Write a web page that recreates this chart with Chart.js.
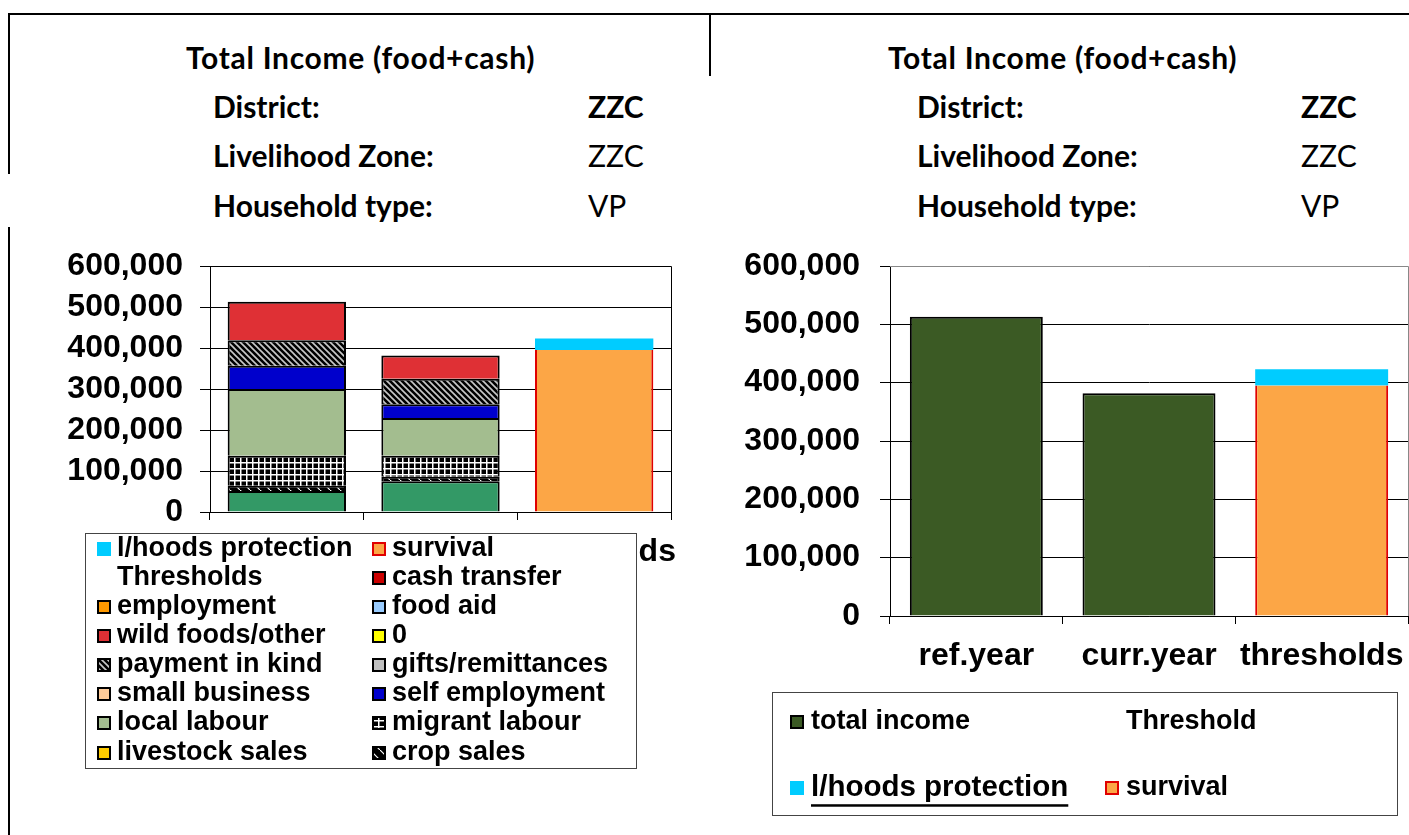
<!DOCTYPE html>
<html>
<head>
<meta charset="utf-8">
<script src="https://cdn.jsdelivr.net/npm/chart.js@4.4.0/dist/chart.umd.min.js"></script>
<style>
  body { margin: 0; width: 1409px; height: 835px; background: #fff; position: relative; overflow: hidden; }
  .rule { position: absolute; background: #000; }
  .hd { position: absolute; font-family: Lato, 'Open Sans', sans-serif; font-size: 30px; font-weight: 700;
        line-height: 36px; white-space: nowrap; color: #000; }
  .title { letter-spacing: 0.7px; }
  .reg { font-weight: 400; }
  canvas { position: absolute; }
</style>
</head>
<body>
<div class="rule" style="left:8px;top:13px;width:1401px;height:2px"></div>
<div class="rule" style="left:709px;top:13px;width:2px;height:63px"></div>
<div class="rule" style="left:8px;top:13px;width:2px;height:161px"></div>
<div class="rule" style="left:8px;top:227px;width:2px;height:608px"></div>

<div class="hd title" style="left:186px;top:39px">Total Income (food+cash)</div>
<div class="hd" style="left:213px;top:88px">District:</div>
<div class="hd" style="left:588px;top:88px">ZZC</div>
<div class="hd" style="left:213px;top:137px">Livelihood Zone:</div>
<div class="hd reg" style="left:588px;top:137px">ZZC</div>
<div class="hd" style="left:213px;top:187px">Household type:</div>
<div class="hd reg" style="left:588px;top:187px">VP</div>

<div class="hd title" style="left:888px;top:39px">Total Income (food+cash)</div>
<div class="hd" style="left:917px;top:88px">District:</div>
<div class="hd" style="left:1301px;top:88px">ZZC</div>
<div class="hd" style="left:917px;top:137px">Livelihood Zone:</div>
<div class="hd reg" style="left:1301px;top:137px">ZZC</div>
<div class="hd" style="left:917px;top:187px">Household type:</div>
<div class="hd reg" style="left:1301px;top:187px">VP</div>

<canvas id="sourcesChart" width="700" height="595" style="left:0;top:240px"></canvas>
<canvas id="totalChart" width="709" height="595" style="left:700px;top:240px"></canvas>

<script>
// categories and tick values
const categories = ['ref.year', 'curr.year', 'thresholds'];
const yTickValues = [0, 100000, 200000, 300000, 400000, 500000, 600000];

// income sources, stacked bottom to top
const ownCrops       = [51000, 75000, 0];
const cropSales      = [13000, 11000, 0];
const livestockSales = [0, 0, 0];
const migrantLabour  = [73000, 51000, 0];
const localLabour    = [163000, 92000, 0];
const selfEmployment = [57000, 34000, 0];
const smallBusiness  = [0, 0, 0];
const gifts          = [0, 0, 0];
const paymentInKind  = [62000, 62000, 0];
const zeroSeries     = [0, 0, 0];
const wildFoods      = [94000, 57000, 0];
const foodAid        = [0, 0, 0];
const employment     = [0, 0, 0];
const cashTransfer   = [0, 0, 0];

// thresholds
const survival     = [0, 0, 395000];
const lhProtection = [0, 0, 28000];
const totalIncome  = [513000, 382000, 0];

const FONT = "'Liberation Sans', Arial, sans-serif";

function pattern(kind) {
    const c = document.createElement('canvas');
    const g = c.getContext('2d');
    if (kind === 'grid') {
        c.width = 6; c.height = 6;
        g.fillStyle = '#000'; g.fillRect(0, 0, 6, 6);
        g.fillStyle = '#fff';
        g.fillRect(0, 0, 6, 1.5);
        g.fillRect(0, 0, 1.5, 6);
    } else if (kind === 'hatch') {
        c.width = 6; c.height = 6;
        g.fillStyle = '#000'; g.fillRect(0, 0, 6, 6);
        g.strokeStyle = '#c8c8c8'; g.lineWidth = 1.6;
        g.beginPath();
        g.moveTo(-1, -1); g.lineTo(7, 7);
        g.moveTo(-1, 5); g.lineTo(1, 7);
        g.moveTo(5, -1); g.lineTo(7, 1);
        g.stroke();
    } else {
        c.width = 10; c.height = 10;
        g.fillStyle = '#000'; g.fillRect(0, 0, 10, 10);
        g.strokeStyle = '#fff'; g.lineWidth = 1.2;
        g.beginPath(); g.moveTo(0, 0); g.lineTo(10, 10); g.stroke();
    }
    return g.createPattern(c, 'repeat');
}

function src(label, data, color) {
    return { label, data, backgroundColor: color, borderColor: '#000', borderWidth: 2, stack: 's' };
}

const boxLegend = {
    id: 'boxLegend',
    afterDraw(chart, args, o) {
        const ctx = chart.ctx;
        ctx.save();
        ctx.fillStyle = '#fff';
        ctx.fillRect(o.x, o.y, o.w, o.h);
        ctx.strokeStyle = '#444';
        ctx.lineWidth = 1;
        ctx.strokeRect(o.x + 0.5, o.y + 0.5, o.w, o.h);
        ctx.beginPath(); ctx.rect(o.x, o.y, o.w, o.h); ctx.clip();
        ctx.textBaseline = 'middle';
        o.order.forEach((idx, n) => {
            const ds = chart.data.datasets[idx];
            const col = n % o.cols.length, row = Math.floor(n / o.cols.length);
            if (row >= o.rows.length) return;
            const x = o.cols[col], y = o.rows[row];
            if (!ds.noBox) {
                ctx.fillStyle = ds.backgroundColor;
                ctx.fillRect(x, y - 7, 14, 14);
                if (ds.legendStroke) {
                    ctx.strokeStyle = ds.legendStroke;
                    ctx.lineWidth = 2;
                    ctx.strokeRect(x + 1, y - 6, 12, 12);
                }
            }
            const size = ds.legendSize || o.size;
            ctx.font = 'bold ' + size + 'px ' + FONT;
            ctx.fillStyle = '#000';
            ctx.fillText(ds.label, x + o.gap, y);
            if (ds.underline) {
                const w = ctx.measureText(ds.label).width;
                ctx.fillRect(x + o.gap, y + size * 0.55, w, 2.5);
            }
        });
        ctx.restore();
    }
};

const plotFrame = {
    id: 'plotFrame',
    afterDatasetsDraw(chart, args, o) {
        const a = chart.chartArea, ctx = chart.ctx;
        ctx.save();
        ctx.strokeStyle = o.color;
        ctx.lineWidth = 1;
        ctx.beginPath();
        ctx.moveTo(a.left, a.top + 0.5); ctx.lineTo(a.right + 0.5, a.top + 0.5);
        ctx.lineTo(a.right + 0.5, a.bottom);
        ctx.stroke();
        ctx.restore();
    }
};

function scales(yWidth, xHeight, yPad) {
    return {
        x: {
            stacked: true,
            afterFit: s => { s.height = xHeight; s.paddingLeft = 0; s.paddingRight = 0; },
            grid: { offset: true, drawOnChartArea: false, color: '#000', tickLength: 8 },
            border: { color: '#000', width: 1 },
            ticks: { color: '#000', padding: 13, maxRotation: 0, autoSkip: false,
                     font: { family: FONT, size: 32, weight: 'bold' } }
        },
        y: {
            stacked: true, min: 0, max: 600000,
            afterFit: s => { s.width = yWidth; s.paddingTop = 0; s.paddingBottom = 0; },
            afterBuildTicks: s => { s.ticks = yTickValues.map(v => ({ value: v })); },
            grid: { color: '#000', tickLength: 10 },
            border: { color: '#000', width: 1 },
            ticks: {
                color: '#000', padding: yPad, autoSkip: false,
                font: { family: FONT, size: 32, weight: 'bold' },
                callback: v => v.toLocaleString('en-US')
            }
        }
    };
}

const sourceSets = [
    src('own crops', ownCrops, '#339966'),
    src('crop sales', cropSales, pattern('diag')),
    src('livestock sales', livestockSales, '#FFCC00'),
    src('migrant labour', migrantLabour, pattern('grid')),
    src('local labour', localLabour, '#A3BD8F'),
    src('self employment', selfEmployment, '#0000CC'),
    src('small business', smallBusiness, '#FFCC99'),
    src('gifts/remittances', gifts, '#C0C0C0'),
    src('payment in kind', paymentInKind, pattern('hatch')),
    src('0', zeroSeries, '#FFFF00'),
    src('wild foods/other', wildFoods, '#DF3035'),
    src('food aid', foodAid, '#99CCFF'),
    src('employment', employment, '#FF9900'),
    src('cash transfer', cashTransfer, '#CC0000'),
    { label: 'Thresholds', data: [0, 0, 0], backgroundColor: 'rgba(0,0,0,0)', noBox: true, stack: 's' },
    { label: 'survival', data: survival, backgroundColor: '#FCA646', borderColor: '#E00000',
      borderWidth: { left: 2, right: 2, top: 0, bottom: 0 }, legendStroke: '#E00000', stack: 's' },
    { label: 'l/hoods protection', data: lhProtection, backgroundColor: '#00CCFF', borderWidth: 0, stack: 's' }
];
sourceSets.forEach(d => { if (d.borderColor === '#000') d.legendStroke = '#000'; });

new Chart(document.getElementById('sourcesChart'), {
    type: 'bar',
    data: { labels: categories, datasets: sourceSets },
    options: {
        responsive: false, animation: false,
        categoryPercentage: 1, barPercentage: 0.77,
        layout: { padding: { top: 26, right: 29, left: 0, bottom: 0 } },
        scales: scales(210, 323, 17),
        plugins: {
            legend: { display: false }, tooltip: { enabled: false },
            plotFrame: { color: '#000' },
            boxLegend: {
                x: 85, y: 293, w: 551, h: 235, size: 27, gap: 20,
                cols: [97, 372],
                rows: [309, 338, 367, 396, 425, 454, 483, 513],
                order: sourceSets.map((d, i) => i).reverse()
            }
        }
    },
    plugins: [plotFrame, boxLegend]
});

const totalSets = [
    { label: 'total income', data: totalIncome, backgroundColor: '#3B5A24', borderColor: '#000',
      borderWidth: 2, legendStroke: '#000', stack: 's' },
    { label: 'Threshold', data: [0, 0, 0], backgroundColor: 'rgba(0,0,0,0)', noBox: true, stack: 's' },
    { label: 'survival', data: survival, backgroundColor: '#FCA646', borderColor: '#E00000',
      borderWidth: { left: 2, right: 2, top: 0, bottom: 0 }, legendStroke: '#E00000', stack: 's' },
    { label: 'l/hoods protection', data: lhProtection, backgroundColor: '#00CCFF', borderWidth: 0,
      legendSize: 29.5, underline: true, stack: 's' }
];

new Chart(document.getElementById('totalChart'), {
    type: 'bar',
    data: { labels: categories, datasets: totalSets },
    options: {
        responsive: false, animation: false,
        categoryPercentage: 1, barPercentage: 0.77,
        layout: { padding: { top: 26, right: 1, left: 0, bottom: 0 } },
        scales: scales(190, 219, 20),
        plugins: {
            legend: { display: false }, tooltip: { enabled: false },
            plotFrame: { color: '#888' },
            boxLegend: {
                x: 72, y: 452, w: 625, h: 123, size: 27, gap: 21,
                cols: [90, 405],
                rows: [482, 548],
                order: [0, 1, 3, 2]
            }
        }
    },
    plugins: [plotFrame, boxLegend]
});
</script>
</body>
</html>
